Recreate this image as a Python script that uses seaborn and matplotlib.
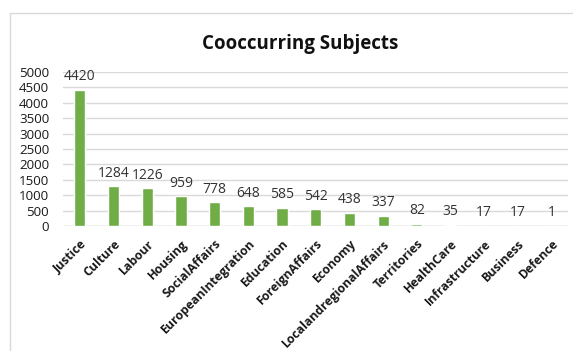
import matplotlib
matplotlib.use("Agg")
import matplotlib.pyplot as plt
import matplotlib.patches as mpatches
import seaborn as sns
import pandas as pd

subjects = ["Justice", "Culture", "Labour", "Housing", "SocialAffairs",
            "EuropeanIntegration", "Education", "ForeignAffairs", "Economy",
            "LocalandregionalAffairs", "Territories", "HealthCare",
            "Infrastructure", "Business", "Defence"]
counts = [4420, 1284, 1226, 959, 778, 648, 585, 542, 438, 337, 82, 35, 17, 17, 1]
y_ticks = list(range(0, 5001, 500))

sns.set_theme(style="white")
plt.rcParams["font.family"] = ["Open Sans", "DejaVu Sans"]

df = pd.DataFrame({"subject": subjects, "count": counts})

fig = plt.figure(figsize=(5.73, 3.51), dpi=100)
ax = fig.add_axes([0.110, 0.356, 0.882, 0.439])

sns.barplot(data=df, x="subject", y="count", color="#70AD47", width=0.33,
            saturation=1, ax=ax, zorder=3)

ax.set_ylim(0, 5000)
ax.set_yticks(y_ticks)
ax.set_xlim(-0.5, len(subjects) - 0.5)
ax.yaxis.grid(True, color="#D9D9D9", linewidth=1, zorder=0)
ax.set_axisbelow(True)
for s in ax.spines.values():
    s.set_visible(False)
ax.axhline(0, color="#D9D9D9", linewidth=1, zorder=1)
ax.set_xlabel("")
ax.set_ylabel("")
ax.tick_params(axis="both", length=0)
ax.tick_params(axis="y", pad=10, labelsize=9.6, labelcolor="#1a1a1a")
ax.set_xticks(range(len(subjects)))
ax.set_xticklabels(subjects, rotation=45, ha="right", va="top",
                   rotation_mode="anchor", fontsize=8.8, fontweight="bold",
                   color="#1a1a1a")
ax.tick_params(axis="x", pad=8)

ax.bar_label(ax.containers[0], labels=[str(c) for c in counts], padding=4,
             fontsize=10, color="#333333")

fig.text(0.524, 0.875, "Cooccurring Subjects", ha="center", va="center",
         fontsize=13.5, fontweight="bold", color="#111111")

border = mpatches.Rectangle((10 / 573, -0.2), 1.2, 1.2 - 13 / 351,
                            transform=fig.transFigure, fill=False,
                            edgecolor="#D9D9D9", linewidth=1, clip_on=False)
fig.patches.append(border)

fig.savefig("out.png", dpi=100)
